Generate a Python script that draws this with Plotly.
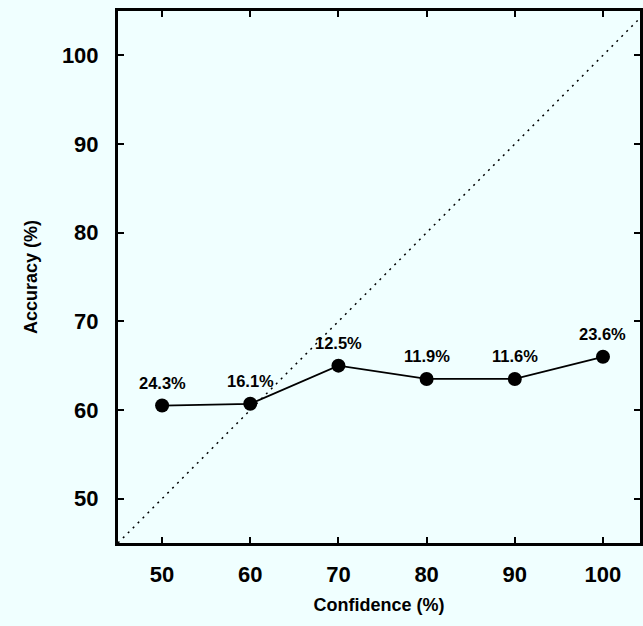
import plotly.graph_objects as go

# Calibration data: stated confidence vs. observed accuracy
confidence = [50, 60, 70, 80, 90, 100]
accuracy = [60.5, 60.7, 65.0, 63.5, 63.5, 66.0]
share_labels = ["24.3%", "16.1%", "12.5%", "11.9%", "11.6%", "23.6%"]

x_ticks = [50, 60, 70, 80, 90, 100]
y_ticks = [50, 60, 70, 80, 90, 100]

x_range = [45, 104.2]
y_range = [45, 105]

BG = "#F0FFFF"
FONT = "Liberation Sans, Arial, sans-serif"

fig = go.Figure()

# Perfect-calibration reference line
fig.add_trace(go.Scatter(
    x=[x_range[0], x_range[1]], y=[x_range[0], x_range[1]],
    mode="lines",
    line=dict(color="black", width=1.5, dash="2px,5px"),
    hoverinfo="skip", showlegend=False,
))

fig.add_trace(go.Scatter(
    x=confidence, y=accuracy,
    mode="lines+markers",
    line=dict(color="black", width=1.8),
    marker=dict(color="black", size=14),
    showlegend=False,
))

for xv, yv, lab in zip(confidence, accuracy, share_labels):
    fig.add_annotation(
        x=xv, y=yv, text=f"<b>{lab}</b>", showarrow=False,
        yshift=23, font=dict(family=FONT, size=16.5, color="black"),
    )

axis_common = dict(
    showgrid=False, zeroline=False,
    showline=True, linecolor="black", linewidth=3, mirror="ticks",
    ticks="inside", ticklen=6, tickwidth=1.5, tickcolor="black",
    tickfont=dict(family=FONT, size=22, color="black"),
)

fig.update_xaxes(
    range=x_range, tickvals=x_ticks, ticktext=[f"<b>{t}</b>" for t in x_ticks],
    title=dict(text="<b>Confidence (%)</b>", font=dict(family=FONT, size=18, color="black"), standoff=12),
    ticklabelstandoff=10,
    **axis_common,
)
fig.update_yaxes(
    range=y_range, tickvals=y_ticks, ticktext=[f"<b>{t}</b>" for t in y_ticks],
    title=dict(text="<b>Accuracy (%)</b>", font=dict(family=FONT, size=18, color="black"), standoff=20),
    ticklabelstandoff=12,
    **axis_common,
)

fig.update_layout(
    width=643, height=626,
    margin=dict(l=118, r=0, t=11, b=83),
    paper_bgcolor=BG, plot_bgcolor=BG,
    font=dict(family=FONT, color="black"),
)

fig.write_html("out.html")
